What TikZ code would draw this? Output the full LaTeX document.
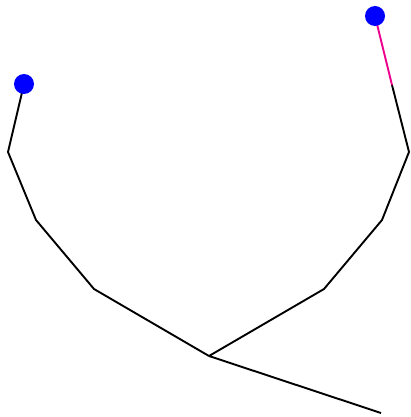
\documentclass[tikz,border=0pt]{standalone}
\usepackage{tikz}
\begin{document}
\begin{tikzpicture}[
  x=1pt,y=-1pt,
  tip/.style={circle,fill=blue,inner sep=0pt,minimum size=20pt},
  limb/.style={line width=1.9pt,line join=round},
  hand/.style={limb,draw=magenta}
]
\useasboundingbox (0,0) rectangle (411,417);
% joints
\coordinate (root) at (209,356);
\coordinate (tail) at (381,413);
\coordinate (l1) at (94,289);
\coordinate (l2) at (36,220);
\coordinate (l3) at (8,152);
\coordinate (l4) at (24,84);
\coordinate (r1) at (324,289);
\coordinate (r2) at (382,220);
\coordinate (r3) at (409,152);
\coordinate (r4) at (392,85);
\coordinate (r5) at (375,16);
\draw[limb] (root) -- (tail);
\draw[limb] (root) -- (l1) -- (l2) -- (l3) -- (l4);
\draw[limb] (root) -- (r1) -- (r2) -- (r3) -- (r4);
\draw[hand] (r4) -- (r5);
% end points
\node[tip] (lend) at (l4) {};
\node[tip] (rend) at (r5) {};
\end{tikzpicture}
\end{document}
